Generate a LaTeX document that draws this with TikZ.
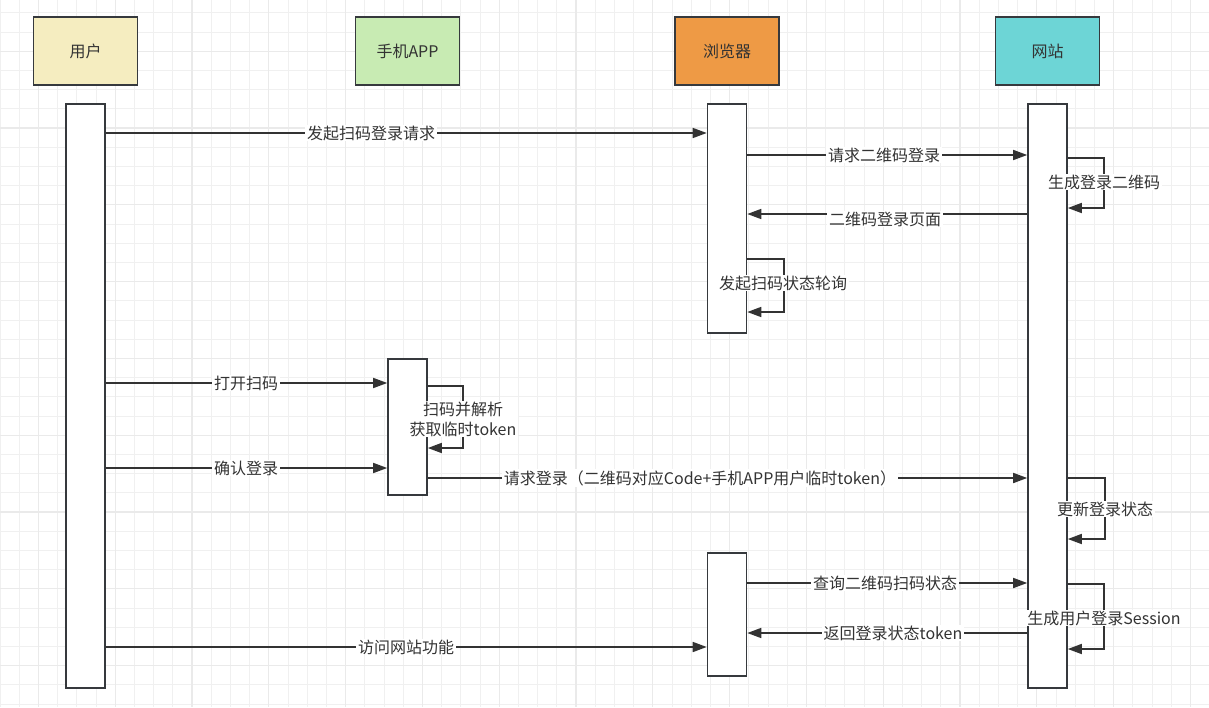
\documentclass[tikz,border=0pt]{standalone}
\usepackage{fontspec}
\newfontfamily\cjk{Noto Sans CJK SC}
\usetikzlibrary{arrows.meta}
\definecolor{ln}{HTML}{333333}
\definecolor{bd}{HTML}{36393D}
\definecolor{cyel}{HTML}{F5EDC0}
\definecolor{cgrn}{HTML}{C8EBB3}
\definecolor{corg}{HTML}{EE9A45}
\definecolor{ctea}{HTML}{6DD5D6}
\definecolor{gmin}{HTML}{F0F0F0}
\definecolor{gmaj}{HTML}{EAEAEA}
\definecolor{txt}{HTML}{333333}
\begin{document}
\begin{tikzpicture}[x=1pt,y=-1pt,
  head/.style={draw=bd, line width=1.6pt, minimum width=104pt, minimum height=68pt, inner sep=0pt, text=txt, font=\cjk\fontsize{16}{20}\selectfont},
  act/.style={draw=bd, fill=white, line width=1.6pt, minimum width=39pt, inner sep=0pt},
  msg/.style={draw=ln, line width=1.6pt, -{Triangle[length=14pt,width=10pt]}},
  lbl/.style={fill=white, text=txt, inner xsep=2pt, inner ysep=1pt, font=\cjk\fontsize{16}{20}\selectfont, align=center}]
\useasboundingbox (0,0) rectangle (1209,707);
\fill[white] (0,0) rectangle (1209,707);
% grid
\foreach \i in {0,...,63} \draw[gmin, line width=1pt] (\i*19.2,0) -- (\i*19.2,707);
\foreach \i in {0,...,36} \draw[gmin, line width=1pt] (0,12.8+\i*19.2) -- (1209,12.8+\i*19.2);
\foreach \i in {0,...,15} \draw[gmaj, line width=1.2pt] (38.4+\i*76.8,0) -- (38.4+\i*76.8,707);
\foreach \i in {0,...,8} \draw[gmaj, line width=1.2pt] (0,51.2+\i*76.8) -- (1209,51.2+\i*76.8);
% heads
\node[head, fill=cyel] (hu) at (85.5,51) {用户};
\node[head, fill=cgrn] (hp) at (407.5,51) {手机APP};
\node[head, fill=corg] (hb) at (727,51) {浏览器};
\node[head, fill=ctea] (hs) at (1047.5,51) {网站};
% activations
\node[act, minimum height=584pt] (ua) at (85.5,396) {};
\node[act, minimum height=136pt] (pa) at (407.5,427) {};
\node[act, minimum height=229pt] (ba1) at (727,218.5) {};
\node[act, minimum height=123pt] (ba2) at (727,614.5) {};
\node[act, minimum height=584pt] (sa) at (1047.5,396) {};
% messages
\draw[msg] (ua.east |- 0,133) -- (ba1.west |- 0,133);
\draw[msg] (ba1.east |- 0,155) -- (sa.west |- 0,155);
\draw[msg] (sa.east |- 0,158) -| (1104,208) -- (sa.east |- 0,208);
\draw[msg] (sa.west |- 0,214) -- (ba1.east |- 0,214);
\draw[msg] (ba1.east |- 0,259) -| (784,312) -- (ba1.east |- 0,312);
\draw[msg] (ua.east |- 0,383) -- (pa.west |- 0,383);
\draw[msg] (pa.east |- 0,386) -| (463,448) -- (pa.east |- 0,448);
\draw[msg] (ua.east |- 0,468) -- (pa.west |- 0,468);
\draw[msg] (pa.east |- 0,478) -- (sa.west |- 0,478);
\draw[msg] (sa.east |- 0,478) -| (1105,539) -- (sa.east |- 0,539);
\draw[msg] (ba2.east |- 0,583) -- (sa.west |- 0,583);
\draw[msg] (sa.east |- 0,584) -| (1104,649) -- (sa.east |- 0,649);
\draw[msg] (sa.west |- 0,633) -- (ba2.east |- 0,633);
\draw[msg] (ua.east |- 0,647) -- (ba2.west |- 0,647);
% labels
\node[lbl] (l1) at (371,133) {发起扫码登录请求};
\node[lbl] (l2) at (884,155) {请求二维码登录};
\node[lbl] (l3) at (1104,182) {生成登录二维码};
\node[lbl] (l4) at (885,219) {二维码登录页面};
\node[lbl] (l5) at (783,283) {发起扫码状态轮询};
\node[lbl] (l6) at (246,383) {打开扫码};
\node[lbl] (l7) at (463,419) {扫码并解析\\获取临时token};
\node[lbl] (l8) at (246,468) {确认登录};
\node[lbl] (l9) at (700,478) {请求登录（二维码对应Code+手机APP用户临时token）};
\node[lbl] (l10) at (1105,509) {更新登录状态};
\node[lbl] (l11) at (885,583) {查询二维码扫码状态};
\node[lbl] (l12) at (1104,618) {生成用户登录Session};
\node[lbl] (l13) at (893,633) {返回登录状态token};
\node[lbl] (l14) at (406,647) {访问网站功能};
\end{tikzpicture}
\end{document}
